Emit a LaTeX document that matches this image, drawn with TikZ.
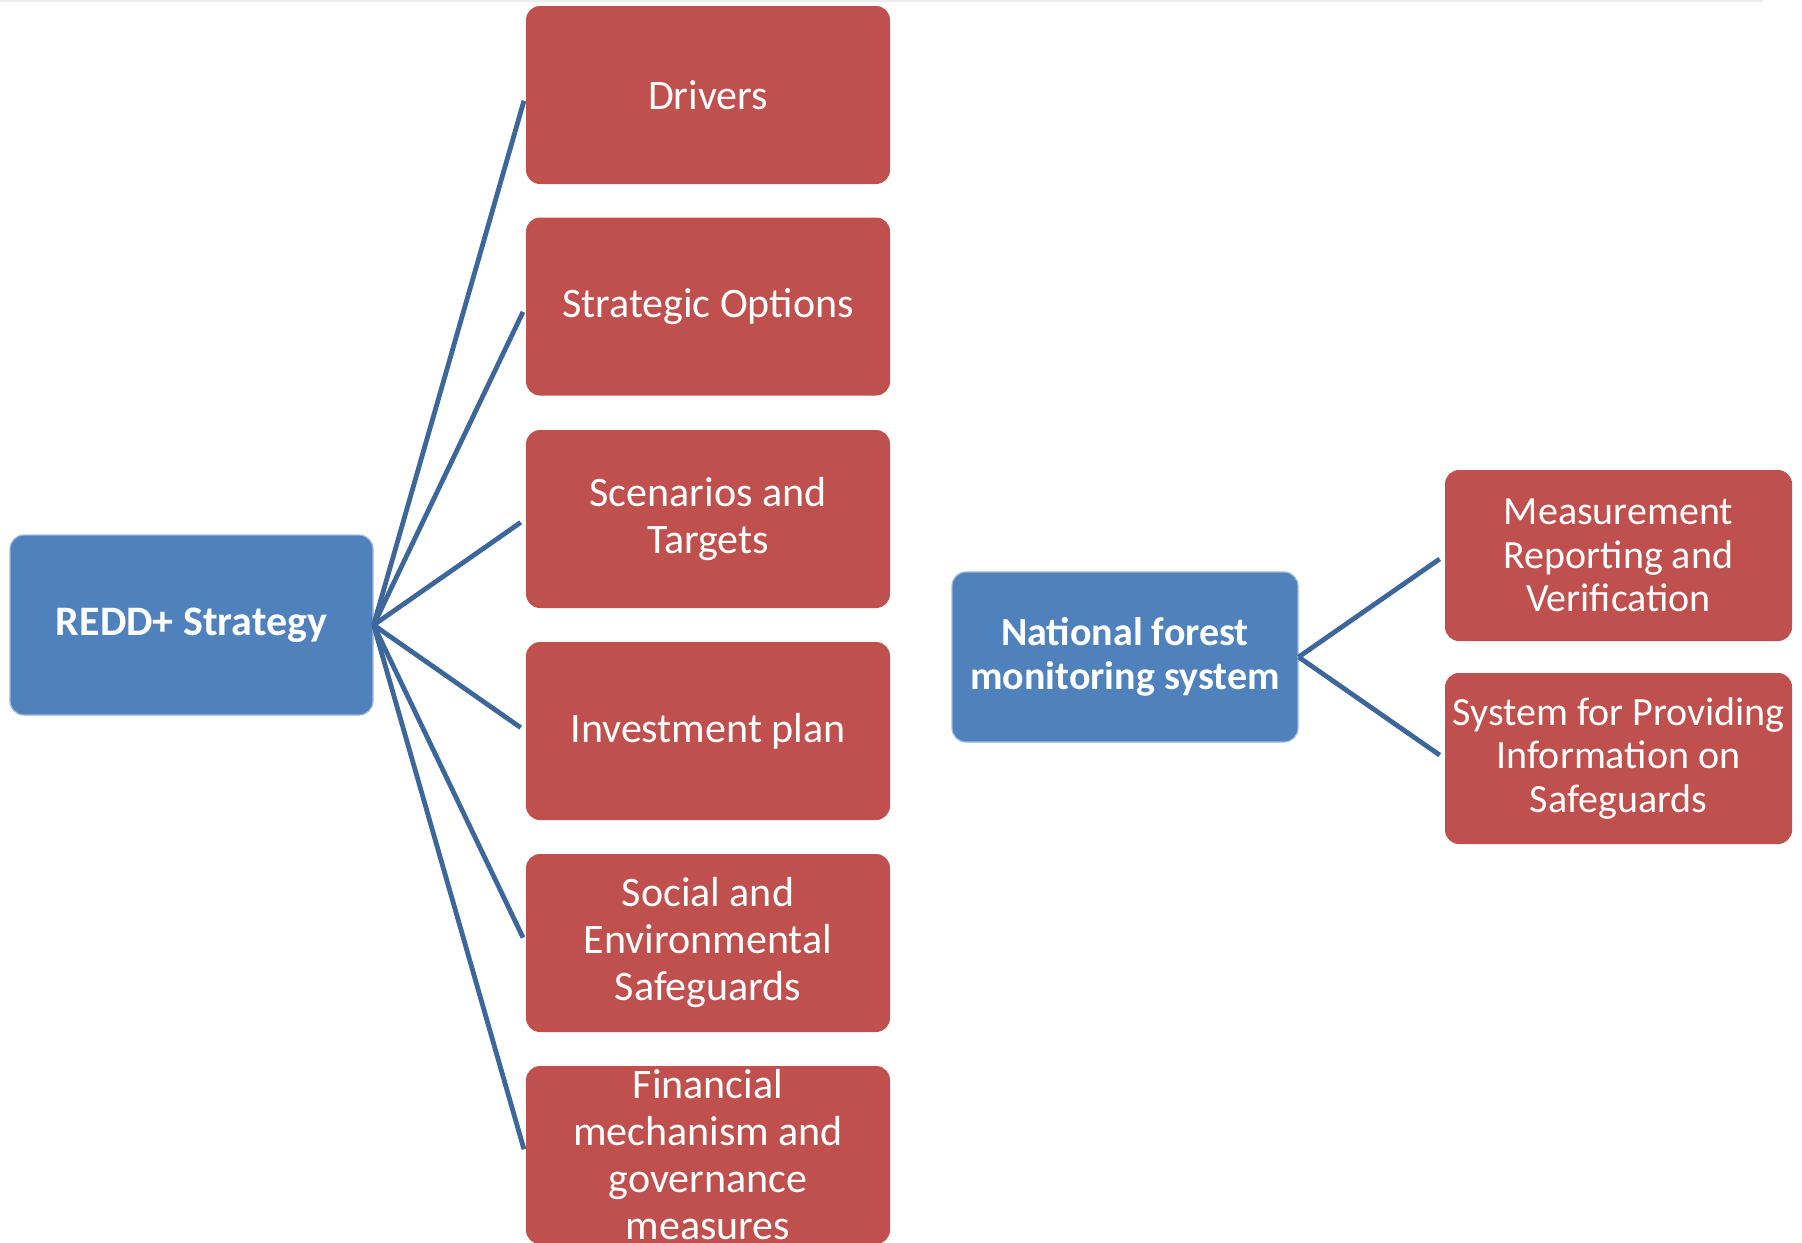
\documentclass[tikz,border=0pt]{standalone}
\usepackage{fontspec}
\setmainfont{Carlito}
\definecolor{itemred}{HTML}{C0504D}
\definecolor{rootblue}{HTML}{4F81BD}
\definecolor{linkblue}{HTML}{3D679B}

\begin{document}
\begin{tikzpicture}[x=0.5pt,y=-0.5pt]
	\tikzstyle{box}=[rectangle,rounded corners=7pt,text=white,align=center,inner xsep=1pt,inner ysep=0pt,font=\fontsize{21}{23.5}\selectfont]
	\tikzstyle{item}=[box,fill=itemred,minimum width=182pt,minimum height=89pt]
	\tikzstyle{subitem}=[box,fill=itemred,minimum width=173.5pt,minimum height=85.5pt,font=\fontsize{20}{21.9}\selectfont]
	\tikzstyle{root}=[box,fill=rootblue,draw=rootblue!55!white,line width=0.6pt,font=\fontsize{21}{23.5}\selectfont\bfseries]
	\tikzstyle{link}=[linkblue,line width=2.4pt,shorten >=3pt]
	\useasboundingbox (0,0) rectangle (1802,1242);
	\draw [black!7,line width=1.2pt] (0,1) -- (1763,1);
	% left tree
	\node (redd) at (191.5,625) [root,minimum width=181.5pt,minimum height=90pt] {REDD+ Strategy};
	\node (drivers)    at (708,95)    [item] {Drivers};
	\node (options)    at (708,306.5) [item] {Strategic Options};
	\node (scenarios)  at (708,519)   [item] {Scenarios and\\Targets};
	\node (investment) at (708,731)   [item] {Investment plan};
	\node (safeguards) at (708,943)   [item] {Social and\\Environmental\\Safeguards};
	\node (financial)  at (708,1155)  [item] {Financial\\mechanism and\\governance\\measures};
	% right tree
	\node (nfms) at (1125,657) [root,minimum width=173pt,minimum height=85pt,font=\fontsize{20}{21.9}\selectfont\bfseries] {National forest\\monitoring system};
	\node (mrv)  at (1618.5,555.5) [subitem] {Measurement\\Reporting and\\Verification};
	\node (sis)  at (1618.5,758.5) [subitem] {System for Providing\\Information on\\Safeguards};
	\draw [link] (redd.east) -- (drivers.west);
	\draw [link] (redd.east) -- (options.west);
	\draw [link] (redd.east) -- (scenarios.west);
	\draw [link] (redd.east) -- (investment.west);
	\draw [link] (redd.east) -- (safeguards.west);
	\draw [link] (redd.east) -- (financial.west);
	\draw [link] (nfms.east) -- (mrv.west);
	\draw [link] (nfms.east) -- (sis.west);
\end{tikzpicture}
\end{document}
